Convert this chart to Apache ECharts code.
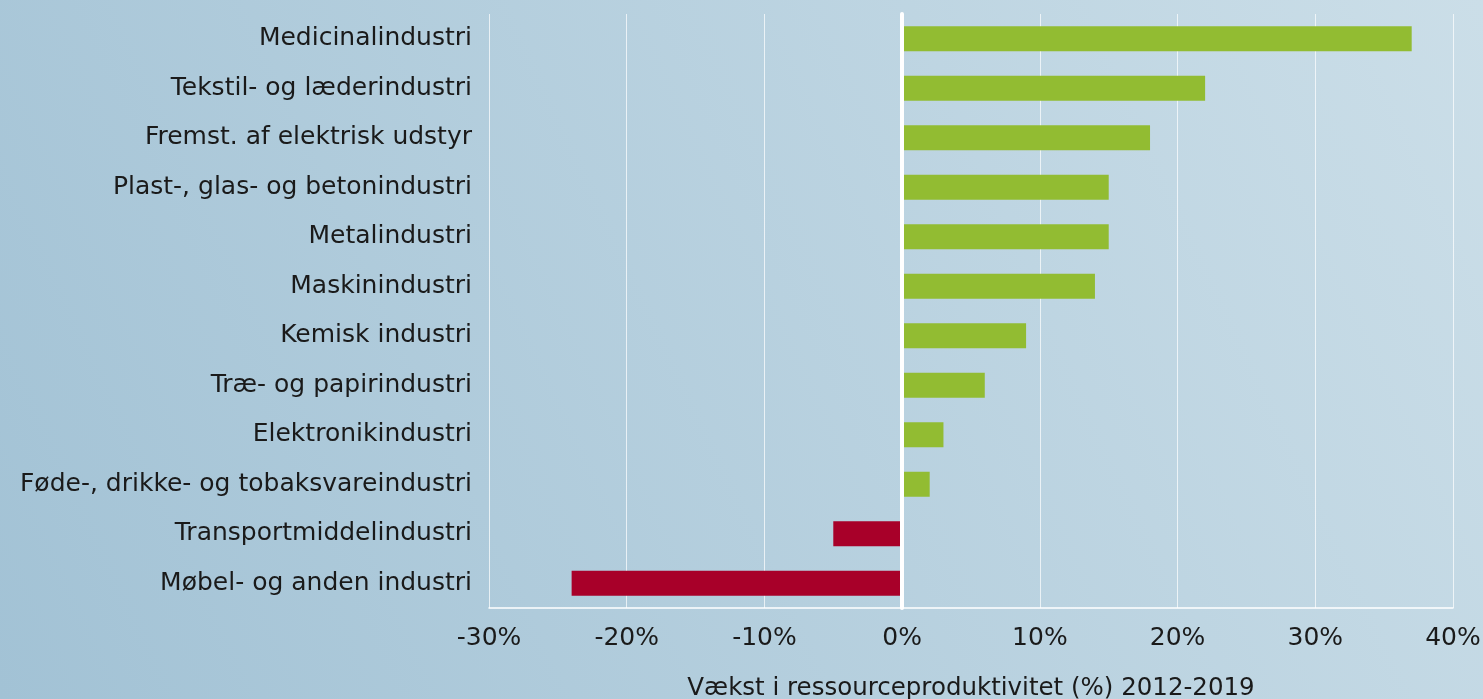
<!DOCTYPE html>
<html>
<head>
<meta charset="utf-8">
<script src="https://cdn.jsdelivr.net/npm/echarts@6/dist/echarts.min.js"></script>
<style>
html, body { margin: 0; padding: 0; }
#chart { width: 1483px; height: 699px; }
</style>
</head>
<body>
<div id="chart"></div>
<script>
// brancher, fra toppen og ned
const categories = [
	'Medicinalindustri',
	'Tekstil- og læderindustri',
	'Fremst. af elektrisk udstyr',
	'Plast-, glas- og betonindustri',
	'Metalindustri',
	'Maskinindustri',
	'Kemisk industri',
	'Træ- og papirindustri',
	'Elektronikindustri',
	'Føde-, drikke- og tobaksvareindustri',
	'Transportmiddelindustri',
	'Møbel- og anden industri'
]
// vækst i %
const values = [37, 22, 18, 15, 15, 14, 9, 6, 3, 2, -5, -24]
const xTicks = [-30, -20, -10, 0, 10, 20, 30, 40]
const axisTitle = 'Vækst i ressourceproduktivitet (%) 2012-2019'

const GREEN = '#92bc32'
const RED = '#a80029'
const FONT = 'DejaVu Sans'
const TEXT = '#1a1a1a'

const myChart = echarts.init(document.getElementById('chart'))
const option = {
	backgroundColor: new echarts.graphic.LinearGradient(0, 1, 1, 0, [
		{ offset: 0, color: '#a2c2d5' },
		{ offset: 1, color: '#cbdee8' }
	]),
	textStyle: { fontFamily: FONT },
	grid: {
		left: 489,
		right: 30,
		top: 14,
		bottom: 91,
		outerBoundsMode: 'none'
	},
	xAxis: {
		type: 'value',
		min: xTicks[0],
		max: xTicks[xTicks.length - 1],
		interval: 10,
		name: axisTitle,
		nameLocation: 'middle',
		nameGap: 68,
		nameTextStyle: { fontSize: 24.5, color: TEXT, fontFamily: FONT },
		axisLine: { show: true, lineStyle: { color: '#ffffff', width: 1.5 } },
		axisTick: { show: false },
		axisLabel: {
			formatter: '{value}%',
			fontSize: 25,
			color: TEXT,
			margin: 18
		},
		splitLine: { lineStyle: { color: 'rgba(255,255,255,0.7)', width: 1 } }
	},
	yAxis: {
		type: 'category',
		inverse: true,
		data: categories,
		z: 5,
		axisLine: { show: true, onZero: true, lineStyle: { color: '#ffffff', width: 4 } },
		axisTick: { show: false },
		axisLabel: {
			fontSize: 25,
			color: TEXT,
			margin: 17
		}
	},
	series: [
		{
			type: 'bar',
			barWidth: 25,
			data: values.map(v => ({
				value: v,
				itemStyle: { color: v < 0 ? RED : GREEN }
			}))
		}
	]
}

option && myChart.setOption(option)
</script>
</body>
</html>
